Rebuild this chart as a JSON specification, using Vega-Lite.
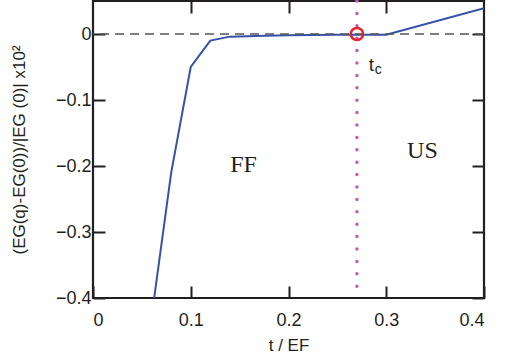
{
  "$schema": "https://vega.github.io/schema/vega-lite/v6.json",
  "width": 391,
  "height": 297,
  "autosize": {"type": "none"},
  "padding": {"left": 93, "top": 1, "right": 28, "bottom": 66},
  "background": "white",
  "config": {
    "view": {"stroke": "#231f20", "strokeWidth": 2.2},
    "axis": {
      "domain": false,
      "grid": false,
      "ticks": true,
      "tickSize": -12,
      "tickWidth": 2,
      "tickColor": "#231f20",
      "tickOpacity": 1,
      "zindex": 2,
      "labelFont": "Liberation Sans",
      "labelFontSize": 18,
      "labelColor": "#231f20",
      "titleFont": "Liberation Sans",
      "titleFontSize": 17,
      "titleFontWeight": "normal",
      "titleColor": "#231f20"
    }
  },
  "resolve": {"axis": {"x": "independent", "y": "independent"}},
  "layer": [
    {
      "data": {"values": [
        {"t": 0.058, "v": -0.45},
        {"t": 0.08, "v": -0.21},
        {"t": 0.1, "v": -0.05},
        {"t": 0.12, "v": -0.01},
        {"t": 0.14, "v": -0.004},
        {"t": 0.2, "v": -0.002},
        {"t": 0.25, "v": -0.001},
        {"t": 0.3, "v": -0.001},
        {"t": 0.4, "v": 0.039}
      ]},
      "mark": {"type": "line", "color": "#3552a8", "strokeWidth": 2, "clip": true},
      "encoding": {
        "x": {"field": "t", "type": "quantitative", "scale": {"domain": [0, 0.4], "nice": false},
          "axis": {"orient": "bottom", "values": [0, 0.1, 0.2, 0.3, 0.4], "format": "~g", "title": "t / EF", "labelPadding": 25, "titlePadding": 8}},
        "y": {"field": "v", "type": "quantitative", "scale": {"domain": [-0.4, 0.05], "nice": false, "zero": false},
          "axis": {"orient": "left", "values": [-0.4, -0.3, -0.2, -0.1, 0], "format": "~g", "title": "(EG(q)-EG(0))/|EG (0)| x10²", "labelPadding": 14, "titlePadding": 27}}
      }
    },
    {
      "data": {"values": [{"v": 0}]},
      "mark": {"type": "rule", "color": "#555555", "strokeWidth": 1.3, "strokeDash": [9, 6]},
      "encoding": {"y": {"field": "v", "type": "quantitative", "axis": null}}
    },
    {
      "data": {"values": [{"t": 0.27}]},
      "mark": {"type": "rule", "color": "#c45ab0", "strokeWidth": 3.5, "strokeDash": [0, 12.4], "strokeCap": "round"},
      "encoding": {"x": {"field": "t", "type": "quantitative", "axis": null}}
    },
    {
      "data": {"values": [{"t": 0.27, "v": 0}]},
      "mark": {"type": "point", "shape": "circle", "filled": false, "color": "#e8202a", "size": 150, "strokeWidth": 2.5, "opacity": 1},
      "encoding": {
        "x": {"field": "t", "type": "quantitative", "axis": {"orient": "top", "values": [0.1, 0.2, 0.3], "labels": false, "title": null}},
        "y": {"field": "v", "type": "quantitative", "axis": {"orient": "right", "values": [-0.4, -0.3, -0.2, -0.1, 0], "labels": false, "title": null}}
      }
    },
    {
      "data": {"values": [{"t": 0.154, "v": -0.198, "label": "FF"}, {"t": 0.337, "v": -0.177, "label": "US"}]},
      "mark": {"type": "text", "font": "Liberation Serif", "fontSize": 24, "color": "#231f20", "baseline": "middle", "align": "center"},
      "encoding": {
        "x": {"field": "t", "type": "quantitative", "axis": null},
        "y": {"field": "v", "type": "quantitative", "axis": null},
        "text": {"field": "label"}
      }
    },
    {
      "data": {"values": [{"t": 0.282, "v": -0.047, "label": "t"}]},
      "mark": {"type": "text", "font": "Liberation Sans", "fontSize": 19, "color": "#231f20", "baseline": "middle", "align": "left"},
      "encoding": {
        "x": {"field": "t", "type": "quantitative", "axis": null},
        "y": {"field": "v", "type": "quantitative", "axis": null},
        "text": {"field": "label"}
      }
    },
    {
      "data": {"values": [{"t": 0.282, "v": -0.047, "label": "c"}]},
      "mark": {"type": "text", "font": "Liberation Sans", "fontSize": 14, "color": "#231f20", "baseline": "middle", "align": "left", "dx": 6, "dy": 5},
      "encoding": {
        "x": {"field": "t", "type": "quantitative", "axis": null},
        "y": {"field": "v", "type": "quantitative", "axis": null},
        "text": {"field": "label"}
      }
    }
  ]
}
